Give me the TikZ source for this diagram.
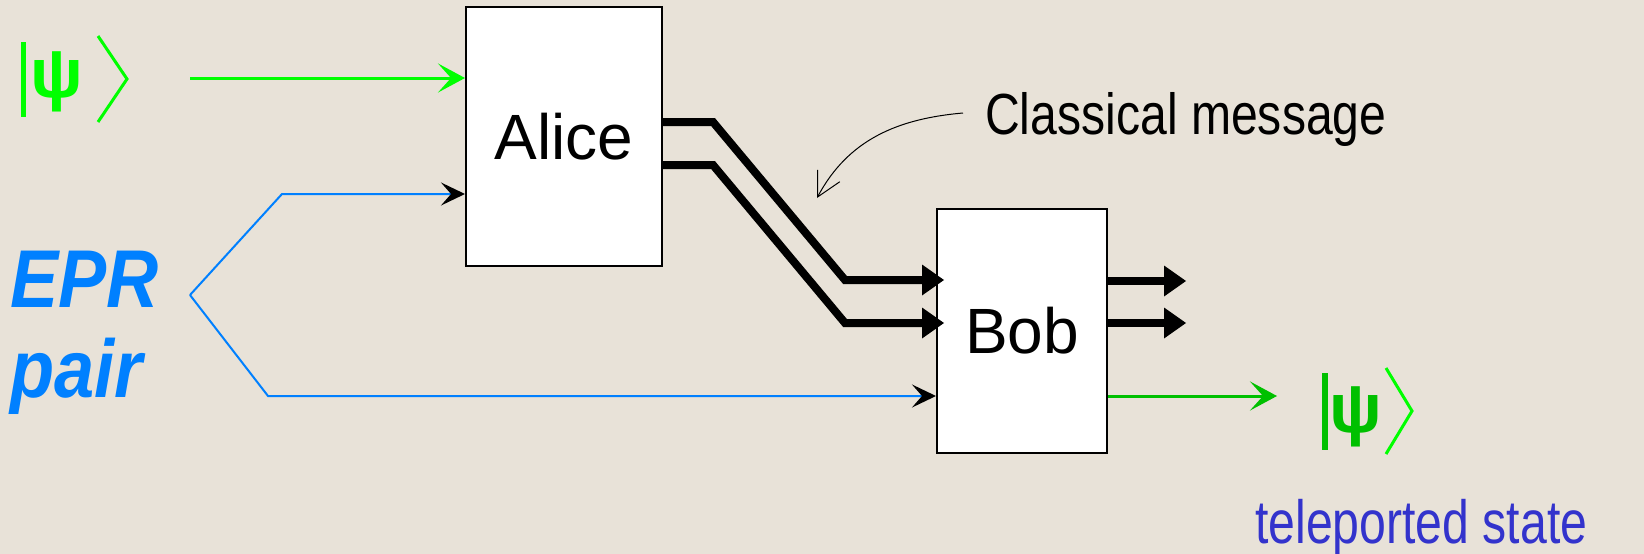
\documentclass[tikz,border=0pt]{standalone}
\usepackage{fontspec}
\setmainfont{Liberation Sans}
\usepackage{tikz}
\usetikzlibrary{arrows.meta}
\usetikzlibrary{positioning}
\definecolor{paper}{RGB}{232,226,216}
\definecolor{eprblue}{RGB}{0,128,255}
\definecolor{stateblue}{RGB}{51,51,204}
\definecolor{qgreen}{RGB}{0,255,0}
\definecolor{qdark}{RGB}{0,192,0}
\tikzset{>=Stealth, font=\fontsize{58}{58}\selectfont}
\tikzstyle{block} = [draw=black, line width=2pt, fill=white, rectangle, inner sep=0pt, font=\fontsize{64}{64}\selectfont]
\tikzstyle{caption} = [anchor=base west, inner sep=0pt, transform shape]
\tikzstyle{psi} = [anchor=base, inner sep=0pt, font=\fontsize{70}{70}\selectfont\bfseries]
\tikzstyle{qwire} = [line width=3pt, -{Stealth[length=27pt, width=29pt, inset=13pt]}]
\tikzstyle{eprwire} = [draw=eprblue, line width=2pt, -{Stealth[length=24pt, width=23pt, inset=10pt, color=black]}]
\tikzstyle{cwire} = [line width=8pt, -{Triangle[length=22pt, width=31pt, line width=0pt]}]
\tikzstyle{note} = [line width=1pt, -{Straight Barb[length=24pt, width=25pt]}]

\begin{document}
\begin{tikzpicture}[x=1pt, y=-1pt]
    \fill[paper] (0,0) rectangle (1644,554);
    \useasboundingbox (0,0) rectangle (1644,554);

    \node [block, minimum width=196pt, minimum height=259pt] (alice) at (564,136.5) {Alice};
    \node [block, minimum width=170pt, minimum height=244pt] (bob) at (1022,331) {Bob};

    % input state
    \node [psi, text=qgreen] (psiin) at (57,97) {ψ};
    \draw [qgreen, line width=5pt] (23,42) -- (23,117);
    \draw [qgreen, line width=3pt] (98,36) -- (127,79) -- (98,122);
    \coordinate (src) at (190,78);
    \draw [qwire, qgreen] (src) -- (alice.west |- 0,78);

    % entangled pair
    \node [caption, xscale=.88, text=eprblue, font=\fontsize{82}{82}\selectfont\bfseries\itshape] (epr) at (10,307) {EPR};
    \node [caption, xscale=.88, text=eprblue, font=\fontsize{82}{82}\selectfont\bfseries\itshape] (pair) at (10,397) {pair};
    \coordinate (split) at (190,295);
    \draw [eprwire] (split) -- (282,194) -- (alice.west |- 0,194);
    \draw [eprwire] (split) -- (268,396) -- (bob.west |- 0,396);

    % two classical bits
    \draw [cwire, shorten >=-8pt] (alice.east |- 0,122) -- (713,122) -- (845,280) -- (bob.west |- 0,280);
    \draw [cwire, shorten >=-8pt] (alice.east |- 0,165) -- (713,165) -- (845,323) -- (bob.west |- 0,323);
    \coordinate (bit1) at (1186,281);
    \coordinate (bit2) at (1186,323);
    \draw [cwire] (bob.east |- bit1) -- (bit1);
    \draw [cwire] (bob.east |- bit2) -- (bit2);

    \node [caption, xscale=.83] (msg) at (985,134) {Classical message};
    \coordinate (msgtail) at (963,113);
    \coordinate (msgtip) at (817,198);
    \draw [note] (msgtail) to [out=185, in=62] (msgtip);

    % output state
    \coordinate (dst) at (1277,396);
    \draw [qwire, qdark] (bob.east |- dst) -- (dst);
    \node [psi, text=qdark] (psiout) at (1356,432) {ψ};
    \draw [qdark, line width=6pt] (1325,373) -- (1325,450);
    \draw [qgreen, line width=3pt] (1386,368) -- (1412,411) -- (1386,454);
    \node [caption, xscale=.79, text=stateblue, font=\fontsize{61}{61}\selectfont] (tele) at (1255,543) {teleported state};
\end{tikzpicture}
\end{document}
